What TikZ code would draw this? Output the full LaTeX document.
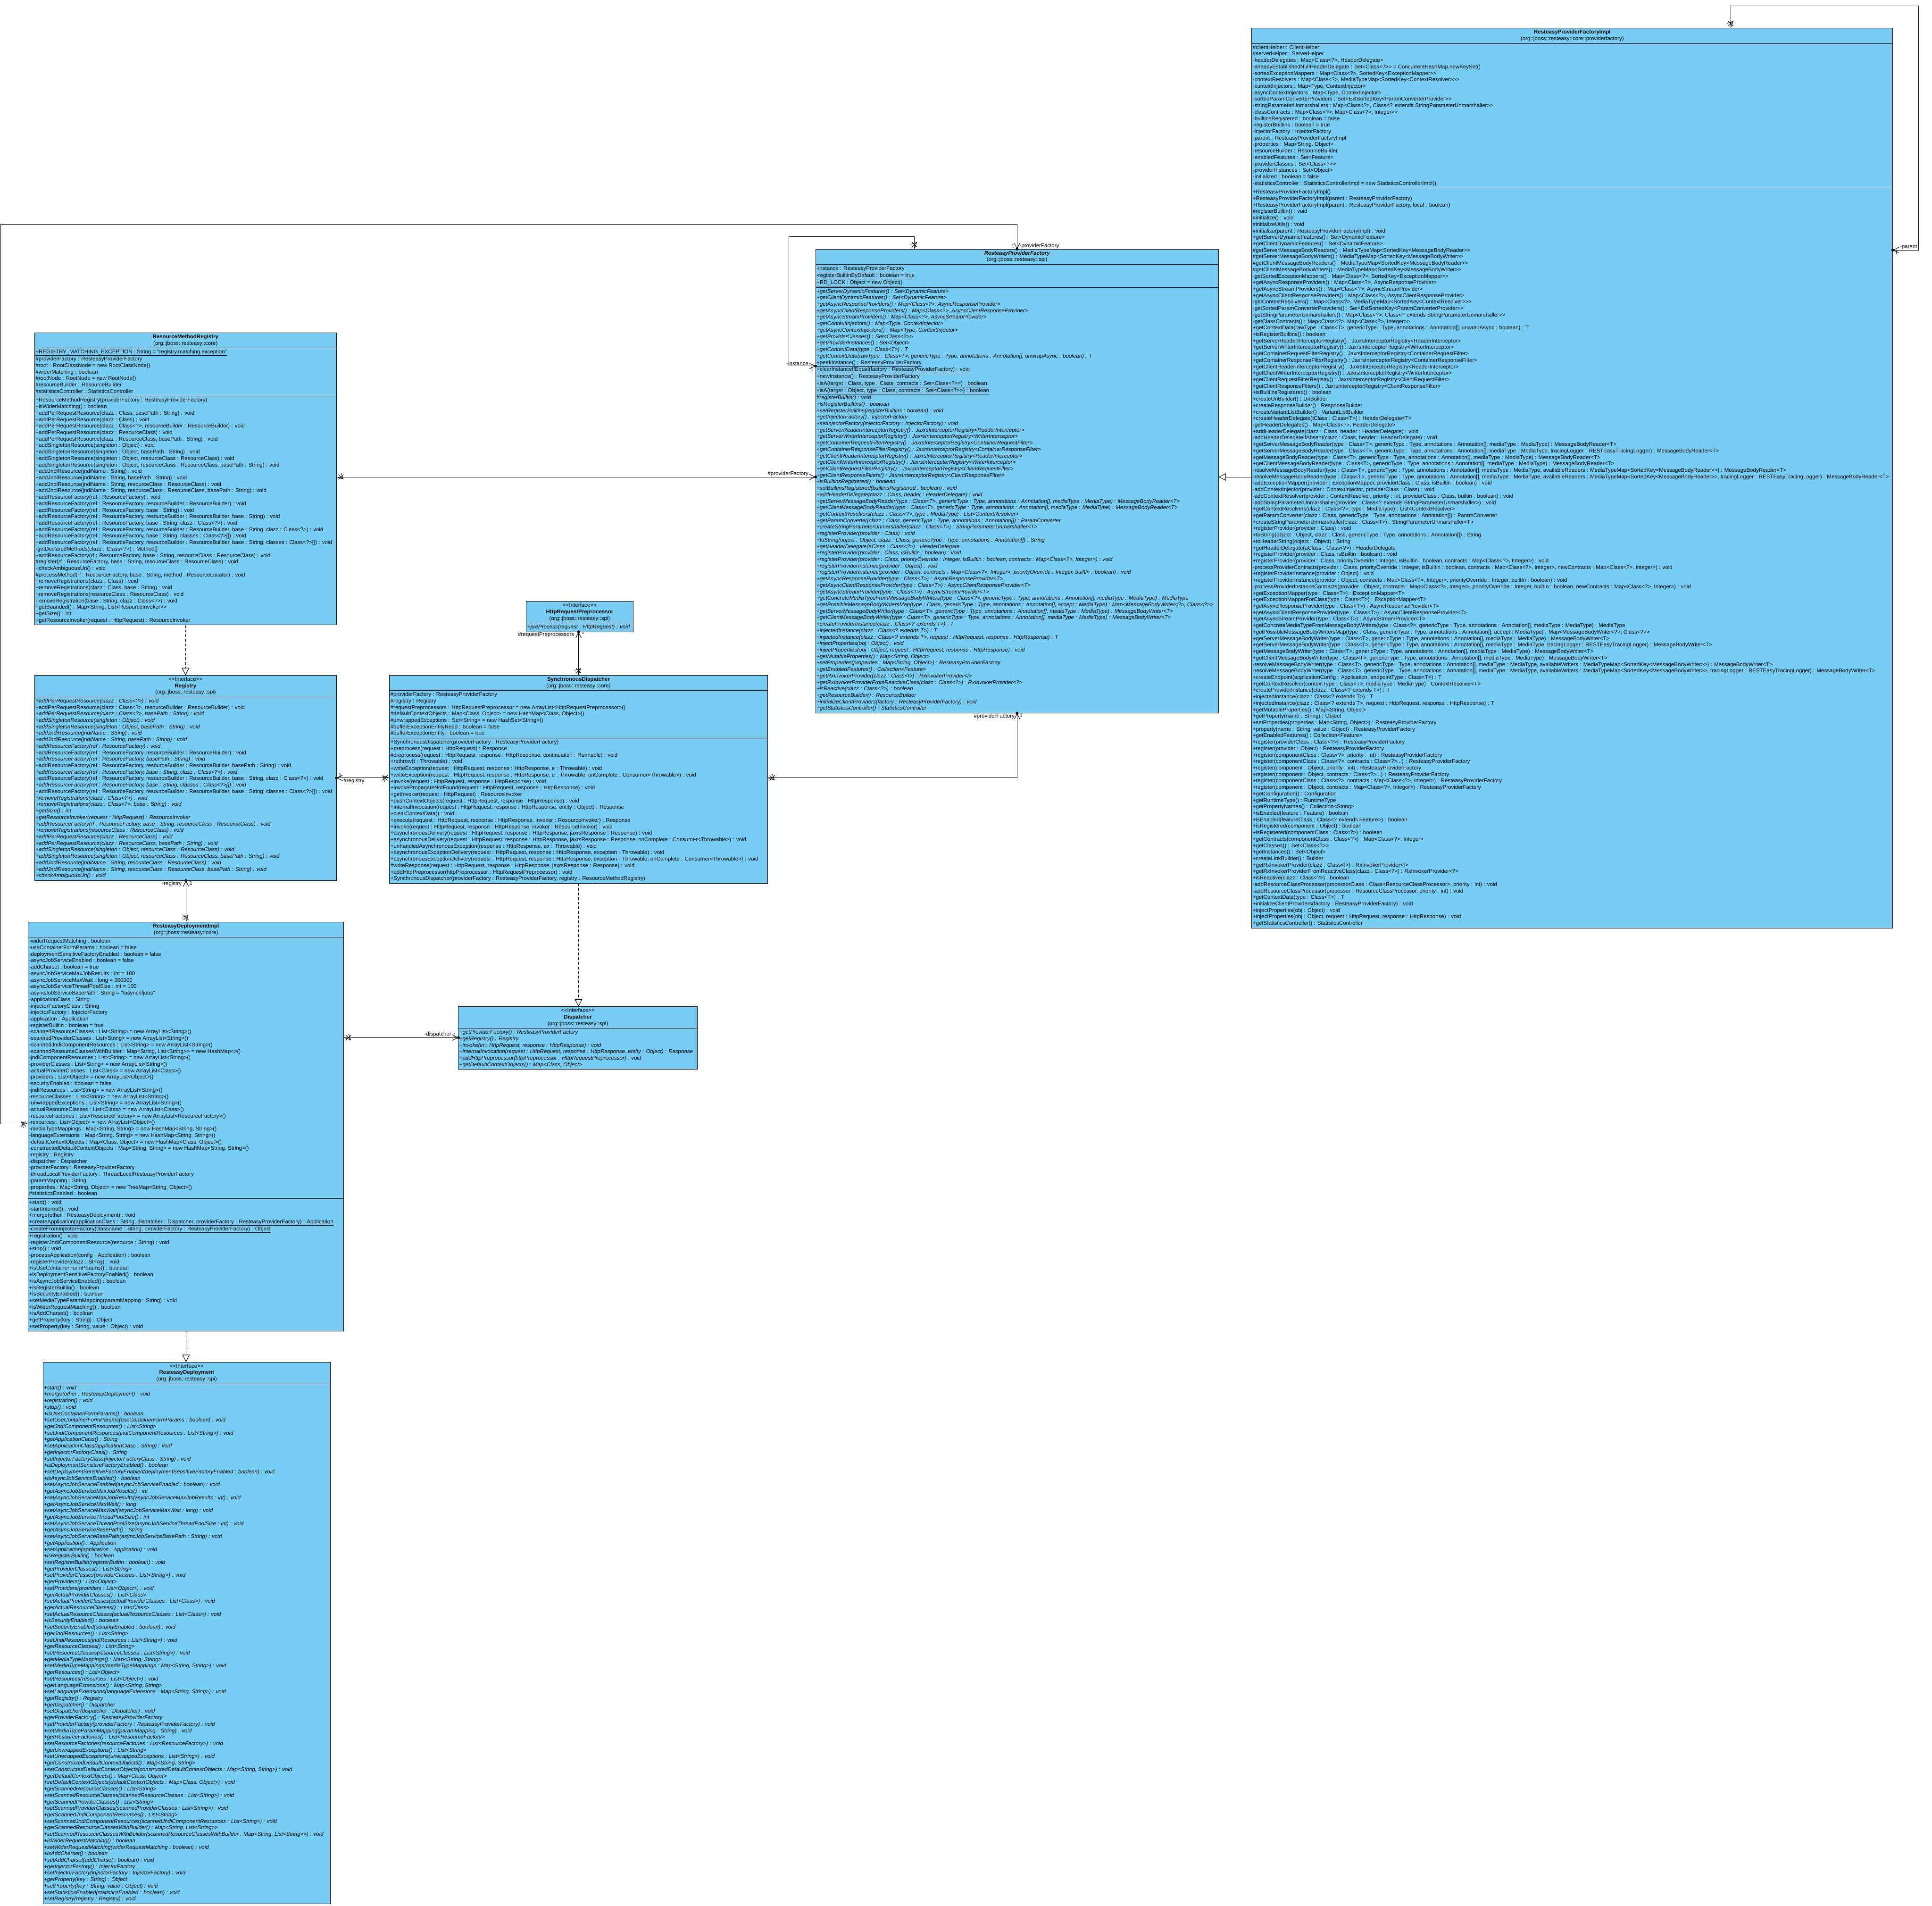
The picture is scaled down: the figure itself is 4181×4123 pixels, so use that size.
\documentclass[tikz,border=0pt]{standalone}
\usepackage{fontspec}
\newfontfamily\umlfont{Liberation Sans}
\usepackage{xcolor}
\usepackage{tikz}
\usetikzlibrary{shapes.multipart, arrows.meta, positioning, calc, decorations.markings}
\definecolor{classblue}{RGB}{120,205,242}
% one compartment of a class box: fixed width, one \hbox per line
\newcommand\umlpart[1]{\vtop{\hsize=\cw\relax#1}}
\newcommand\hd[1]{\hbox to\hsize{\hfil\strut#1\hfil}}
\newcommand\ml[1]{\hbox to\hsize{\strut#1\hfil}}
\tikzset{
  % Class diagram styles
  umlclass/.style={rectangle split, rectangle split parts=#1, draw=black, fill=classblue, line width=1pt,
    inner xsep=2pt, inner ysep=2pt, outer sep=0pt, anchor=north west, font=\umlfont\fontsize{11.75}{14}\selectfont},
  role/.style={font=\umlfont\fontsize{11.75}{14}\selectfont, inner sep=1pt},
  assoc/.style={line width=1pt, -{Straight Barb[length=12pt, width=12pt]},
    postaction={decorate, decoration={markings,
      mark=at position 10pt with {\draw[line width=1pt] (-5.5pt,-5.5pt) -- (5.5pt,5.5pt) (-5.5pt,5.5pt) -- (5.5pt,-5.5pt);},
      mark=at position 1 with {\fill (0,0) circle (3pt);}}}},
  realize/.style={line width=1pt, dashed, dash pattern=on 6pt off 4pt, -{Triangle[open, fill=white, length=16pt, width=16pt]}},
  extends/.style={line width=1pt, -{Triangle[open, fill=white, length=16pt, width=16pt]}},
}

\begin{document}
\begin{tikzpicture}[x=1pt, y=-1pt]
  \path[use as bounding box, fill=white] (0,0) rectangle (4181,4123);

  % ResteasyProviderFactoryImpl
  \def\cw{1383pt}
  \node[umlclass=3] (pfi) at (2709,61) {\umlpart{%
    \hd{\bfseries ResteasyProviderFactoryImpl}
    \hd{(org::jboss::resteasy::core::providerfactory)}}%
  \nodepart{two}\umlpart{%
    \ml{\#clientHelper : ClientHelper}
    \ml{\#serverHelper : ServerHelper}
    \ml{-headerDelegates : Map<Class<?>, HeaderDelegate>}
    \ml{-alreadyEstablishedNullHeaderDelegate : Set<Class<?>> = ConcurrentHashMap.newKeySet()}
    \ml{-sortedExceptionMappers : Map<Class<?>, SortedKey<ExceptionMapper>>}
    \ml{-contextResolvers : Map<Class<?>, MediaTypeMap<SortedKey<ContextResolver>>>}
    \ml{-contextInjectors : Map<Type, ContextInjector>}
    \ml{-asyncContextInjectors : Map<Type, ContextInjector>}
    \ml{-sortedParamConverterProviders : Set<ExtSortedKey<ParamConverterProvider>>}
    \ml{-stringParameterUnmarshallers : Map<Class<?>, Class<? extends StringParameterUnmarshaller>>}
    \ml{-classContracts : Map<Class<?>, Map<Class<?>, Integer>>}
    \ml{-builtinsRegistered : boolean = false}
    \ml{-registerBuiltins : boolean = true}
    \ml{-injectorFactory : InjectorFactory}
    \ml{-parent : ResteasyProviderFactoryImpl}
    \ml{-properties : Map<String, Object>}
    \ml{-resourceBuilder : ResourceBuilder}
    \ml{-enabledFeatures : Set<Feature>}
    \ml{-providerClasses : Set<Class<?>>}
    \ml{-providerInstances : Set<Object>}
    \ml{-initialized : boolean = false}
    \ml{-statisticsController : StatisticsControllerImpl = new StatisticsControllerImpl()}}%
  \nodepart{three}\umlpart{%
    \ml{+ResteasyProviderFactoryImpl()}
    \ml{+ResteasyProviderFactoryImpl(parent : ResteasyProviderFactory)}
    \ml{+ResteasyProviderFactoryImpl(parent : ResteasyProviderFactory, local : boolean)}
    \ml{\#registerBuiltin() : void}
    \ml{\#initialize() : void}
    \ml{\#initializeUtils() : void}
    \ml{\#initialize(parent : ResteasyProviderFactoryImpl) : void}
    \ml{+getServerDynamicFeatures() : Set<DynamicFeature>}
    \ml{+getClientDynamicFeatures() : Set<DynamicFeature>}
    \ml{\#getServerMessageBodyReaders() : MediaTypeMap<SortedKey<MessageBodyReader>>}
    \ml{\#getServerMessageBodyWriters() : MediaTypeMap<SortedKey<MessageBodyWriter>>}
    \ml{\#getClientMessageBodyReaders() : MediaTypeMap<SortedKey<MessageBodyReader>>}
    \ml{\#getClientMessageBodyWriters() : MediaTypeMap<SortedKey<MessageBodyWriter>>}
    \ml{-getSortedExceptionMappers() : Map<Class<?>, SortedKey<ExceptionMapper>>}
    \ml{+getAsyncResponseProviders() : Map<Class<?>, AsyncResponseProvider>}
    \ml{+getAsyncStreamProviders() : Map<Class<?>, AsyncStreamProvider>}
    \ml{+getAsyncClientResponseProviders() : Map<Class<?>, AsyncClientResponseProvider>}
    \ml{-getContextResolvers() : Map<Class<?>, MediaTypeMap<SortedKey<ContextResolver>>>}
    \ml{-getSortedParamConverterProviders() : Set<ExtSortedKey<ParamConverterProvider>>}
    \ml{-getStringParameterUnmarshallers() : Map<Class<?>, Class<? extends StringParameterUnmarshaller>>}
    \ml{-getClassContracts() : Map<Class<?>, Map<Class<?>, Integer>>}
    \ml{+getContextData(rawType : Class<T>, genericType : Type, annotations : Annotation[], unwrapAsync : boolean) : T}
    \ml{+isRegisterBuiltins() : boolean}
    \ml{+getServerReaderInterceptorRegistry() : JaxrsInterceptorRegistry<ReaderInterceptor>}
    \ml{+getServerWriterInterceptorRegistry() : JaxrsInterceptorRegistry<WriterInterceptor>}
    \ml{+getContainerRequestFilterRegistry() : JaxrsInterceptorRegistry<ContainerRequestFilter>}
    \ml{+getContainerResponseFilterRegistry() : JaxrsInterceptorRegistry<ContainerResponseFilter>}
    \ml{+getClientReaderInterceptorRegistry() : JaxrsInterceptorRegistry<ReaderInterceptor>}
    \ml{+getClientWriterInterceptorRegistry() : JaxrsInterceptorRegistry<WriterInterceptor>}
    \ml{+getClientRequestFilterRegistry() : JaxrsInterceptorRegistry<ClientRequestFilter>}
    \ml{+getClientResponseFilters() : JaxrsInterceptorRegistry<ClientResponseFilter>}
    \ml{+isBuiltinsRegistered() : boolean}
    \ml{+createUriBuilder() : UriBuilder}
    \ml{+createResponseBuilder() : ResponseBuilder}
    \ml{+createVariantListBuilder() : VariantListBuilder}
    \ml{+createHeaderDelegate(tClass : Class<T>) : HeaderDelegate<T>}
    \ml{-getHeaderDelegates() : Map<Class<?>, HeaderDelegate>}
    \ml{+addHeaderDelegate(clazz : Class, header : HeaderDelegate) : void}
    \ml{-addHeaderDelegateIfAbsent(clazz : Class, header : HeaderDelegate) : void}
    \ml{+getServerMessageBodyReader(type : Class<T>, genericType : Type, annotations : Annotation[], mediaType : MediaType) : MessageBodyReader<T>}
    \ml{+getServerMessageBodyReader(type : Class<T>, genericType : Type, annotations : Annotation[], mediaType : MediaType, tracingLogger : RESTEasyTracingLogger) : MessageBodyReader<T>}
    \ml{+getMessageBodyReader(type : Class<T>, genericType : Type, annotations : Annotation[], mediaType : MediaType) : MessageBodyReader<T>}
    \ml{+getClientMessageBodyReader(type : Class<T>, genericType : Type, annotations : Annotation[], mediaType : MediaType) : MessageBodyReader<T>}
    \ml{-resolveMessageBodyReader(type : Class<T>, genericType : Type, annotations : Annotation[], mediaType : MediaType, availableReaders : MediaTypeMap<SortedKey<MessageBodyReader>>) : MessageBodyReader<T>}
    \ml{-resolveMessageBodyReader(type : Class<T>, genericType : Type, annotations : Annotation[], mediaType : MediaType, availableReaders : MediaTypeMap<SortedKey<MessageBodyReader>>, tracingLogger : RESTEasyTracingLogger) : MessageBodyReader<T>}
    \ml{-addExceptionMapper(provider : ExceptionMapper, providerClass : Class, isBuiltin : boolean) : void}
    \ml{-addContextInjector(provider : ContextInjector, providerClass : Class) : void}
    \ml{-addContextResolver(provider : ContextResolver, priority : int, providerClass : Class, builtin : boolean) : void}
    \ml{-addStringParameterUnmarshaller(provider : Class<? extends StringParameterUnmarshaller>) : void}
    \ml{+getContextResolvers(clazz : Class<?>, type : MediaType) : List<ContextResolver>}
    \ml{+getParamConverter(clazz : Class, genericType : Type, annotations : Annotation[]) : ParamConverter}
    \ml{+createStringParameterUnmarshaller(clazz : Class<T>) : StringParameterUnmarshaller<T>}
    \ml{+registerProvider(provider : Class) : void}
    \ml{+toString(object : Object, clazz : Class, genericType : Type, annotations : Annotation[]) : String}
    \ml{+toHeaderString(object : Object) : String}
    \ml{+getHeaderDelegate(aClass : Class<?>) : HeaderDelegate}
    \ml{+registerProvider(provider : Class, isBuiltin : boolean) : void}
    \ml{+registerProvider(provider : Class, priorityOverride : Integer, isBuiltin : boolean, contracts : Map<Class<?>, Integer>) : void}
    \ml{-processProviderContracts(provider : Class, priorityOverride : Integer, isBuiltin : boolean, contracts : Map<Class<?>, Integer>, newContracts : Map<Class<?>, Integer>) : void}
    \ml{+registerProviderInstance(provider : Object) : void}
    \ml{+registerProviderInstance(provider : Object, contracts : Map<Class<?>, Integer>, priorityOverride : Integer, builtIn : boolean) : void}
    \ml{-processProviderInstanceContracts(provider : Object, contracts : Map<Class<?>, Integer>, priorityOverride : Integer, builtIn : boolean, newContracts : Map<Class<?>, Integer>) : void}
    \ml{+getExceptionMapper(type : Class<T>) : ExceptionMapper<T>}
    \ml{+getExceptionMapperForClass(type : Class<T>) : ExceptionMapper<T>}
    \ml{+getAsyncResponseProvider(type : Class<T>) : AsyncResponseProvider<T>}
    \ml{+getAsyncClientResponseProvider(type : Class<T>) : AsyncClientResponseProvider<T>}
    \ml{+getAsyncStreamProvider(type : Class<T>) : AsyncStreamProvider<T>}
    \ml{+getConcreteMediaTypeFromMessageBodyWriters(type : Class<?>, genericType : Type, annotations : Annotation[], mediaType : MediaType) : MediaType}
    \ml{+getPossibleMessageBodyWritersMap(type : Class, genericType : Type, annotations : Annotation[], accept : MediaType) : Map<MessageBodyWriter<?>, Class<?>>}
    \ml{+getServerMessageBodyWriter(type : Class<T>, genericType : Type, annotations : Annotation[], mediaType : MediaType) : MessageBodyWriter<T>}
    \ml{+getServerMessageBodyWriter(type : Class<T>, genericType : Type, annotations : Annotation[], mediaType : MediaType, tracingLogger : RESTEasyTracingLogger) : MessageBodyWriter<T>}
    \ml{+getMessageBodyWriter(type : Class<T>, genericType : Type, annotations : Annotation[], mediaType : MediaType) : MessageBodyWriter<T>}
    \ml{+getClientMessageBodyWriter(type : Class<T>, genericType : Type, annotations : Annotation[], mediaType : MediaType) : MessageBodyWriter<T>}
    \ml{-resolveMessageBodyWriter(type : Class<T>, genericType : Type, annotations : Annotation[], mediaType : MediaType, availableWriters : MediaTypeMap<SortedKey<MessageBodyWriter>>) : MessageBodyWriter<T>}
    \ml{-resolveMessageBodyWriter(type : Class<T>, genericType : Type, annotations : Annotation[], mediaType : MediaType, availableWriters : MediaTypeMap<SortedKey<MessageBodyWriter>>, tracingLogger : RESTEasyTracingLogger) : MessageBodyWriter<T>}
    \ml{+createEndpoint(applicationConfig : Application, endpointType : Class<T>) : T}
    \ml{+getContextResolver(contextType : Class<T>, mediaType : MediaType) : ContextResolver<T>}
    \ml{+createProviderInstance(clazz : Class<? extends T>) : T}
    \ml{+injectedInstance(clazz : Class<? extends T>) : T}
    \ml{+injectedInstance(clazz : Class<? extends T>, request : HttpRequest, response : HttpResponse) : T}
    \ml{+getMutableProperties() : Map<String, Object>}
    \ml{+getProperty(name : String) : Object}
    \ml{+setProperties(properties : Map<String, Object>) : ResteasyProviderFactory}
    \ml{+property(name : String, value : Object) : ResteasyProviderFactory}
    \ml{+getEnabledFeatures() : Collection<Feature>}
    \ml{+register(providerClass : Class<?>) : ResteasyProviderFactory}
    \ml{+register(provider : Object) : ResteasyProviderFactory}
    \ml{+register(componentClass : Class<?>, priority : int) : ResteasyProviderFactory}
    \ml{+register(componentClass : Class<?>, contracts : Class<?>...) : ResteasyProviderFactory}
    \ml{+register(component : Object, priority : int) : ResteasyProviderFactory}
    \ml{+register(component : Object, contracts : Class<?>...) : ResteasyProviderFactory}
    \ml{+register(componentClass : Class<?>, contracts : Map<Class<?>, Integer>) : ResteasyProviderFactory}
    \ml{+register(component : Object, contracts : Map<Class<?>, Integer>) : ResteasyProviderFactory}
    \ml{+getConfiguration() : Configuration}
    \ml{+getRuntimeType() : RuntimeType}
    \ml{+getPropertyNames() : Collection<String>}
    \ml{+isEnabled(feature : Feature) : boolean}
    \ml{+isEnabled(featureClass : Class<? extends Feature>) : boolean}
    \ml{+isRegistered(component : Object) : boolean}
    \ml{+isRegistered(componentClass : Class<?>) : boolean}
    \ml{+getContracts(componentClass : Class<?>) : Map<Class<?>, Integer>}
    \ml{+getClasses() : Set<Class<?>>}
    \ml{+getInstances() : Set<Object>}
    \ml{+createLinkBuilder() : Builder}
    \ml{+getRxInvokerProvider(clazz : Class<I>) : RxInvokerProvider<I>}
    \ml{+getRxInvokerProviderFromReactiveClass(clazz : Class<?>) : RxInvokerProvider<?>}
    \ml{+isReactive(clazz : Class<?>) : boolean}
    \ml{-addResourceClassProcessor(processorClass : Class<ResourceClassProcessor>, priority : int) : void}
    \ml{-addResourceClassProcessor(processor : ResourceClassProcessor, priority : int) : void}
    \ml{+getContextData(type : Class<T>) : T}
    \ml{+initializeClientProviders(factory : ResteasyProviderFactory) : void}
    \ml{+injectProperties(obj : Object) : void}
    \ml{+injectProperties(obj : Object, request : HttpRequest, response : HttpResponse) : void}
    \ml{+getStatisticsController() : StatisticsController}}};

  % ResteasyProviderFactory
  \def\cw{868pt}
  \node[umlclass=3] (pf) at (1765,539) {\umlpart{%
    \hd{\bfseries\itshape ResteasyProviderFactory}
    \hd{(org::jboss::resteasy::spi)}}%
  \nodepart{two}\umlpart{%
    \ml{\underline{-instance : ResteasyProviderFactory}}
    \ml{\underline{-registerBuiltinByDefault : boolean = true}}
    \ml{\underline{\textasciitilde RD\_LOCK : Object = new Object()}}}%
  \nodepart{three}\umlpart{\itshape
    \ml{+getServerDynamicFeatures() : Set<DynamicFeature>}
    \ml{+getClientDynamicFeatures() : Set<DynamicFeature>}
    \ml{+getAsyncResponseProviders() : Map<Class<?>, AsyncResponseProvider>}
    \ml{+getAsyncClientResponseProviders() : Map<Class<?>, AsyncClientResponseProvider>}
    \ml{+getAsyncStreamProviders() : Map<Class<?>, AsyncStreamProvider>}
    \ml{+getContextInjectors() : Map<Type, ContextInjector>}
    \ml{+getAsyncContextInjectors() : Map<Type, ContextInjector>}
    \ml{+getProviderClasses() : Set<Class<?>>}
    \ml{+getProviderInstances() : Set<Object>}
    \ml{+getContextData(type : Class<T>) : T}
    \ml{+getContextData(rawType : Class<T>, genericType : Type, annotations : Annotation[], unwrapAsync : boolean) : T}
    \ml{\upshape\underline{+peekInstance() : ResteasyProviderFactory}}
    \ml{\upshape\underline{+clearInstanceIfEqual(factory : ResteasyProviderFactory) : void}}
    \ml{\upshape\underline{+newInstance() : ResteasyProviderFactory}}
    \ml{\upshape\underline{+isA(target : Class, type : Class, contracts : Set<Class<?>>) : boolean}}
    \ml{\upshape\underline{+isA(target : Object, type : Class, contracts : Set<Class<?>>) : boolean}}
    \ml{\#registerBuiltin() : void}
    \ml{+isRegisterBuiltins() : boolean}
    \ml{+setRegisterBuiltins(registerBuiltins : boolean) : void}
    \ml{+getInjectorFactory() : InjectorFactory}
    \ml{+setInjectorFactory(injectorFactory : InjectorFactory) : void}
    \ml{+getServerReaderInterceptorRegistry() : JaxrsInterceptorRegistry<ReaderInterceptor>}
    \ml{+getServerWriterInterceptorRegistry() : JaxrsInterceptorRegistry<WriterInterceptor>}
    \ml{+getContainerRequestFilterRegistry() : JaxrsInterceptorRegistry<ContainerRequestFilter>}
    \ml{+getContainerResponseFilterRegistry() : JaxrsInterceptorRegistry<ContainerResponseFilter>}
    \ml{+getClientReaderInterceptorRegistry() : JaxrsInterceptorRegistry<ReaderInterceptor>}
    \ml{+getClientWriterInterceptorRegistry() : JaxrsInterceptorRegistry<WriterInterceptor>}
    \ml{+getClientRequestFilterRegistry() : JaxrsInterceptorRegistry<ClientRequestFilter>}
    \ml{+getClientResponseFilters() : JaxrsInterceptorRegistry<ClientResponseFilter>}
    \ml{+isBuiltinsRegistered() : boolean}
    \ml{+setBuiltinsRegistered(builtinsRegistered : boolean) : void}
    \ml{+addHeaderDelegate(clazz : Class, header : HeaderDelegate) : void}
    \ml{+getServerMessageBodyReader(type : Class<T>, genericType : Type, annotations : Annotation[], mediaType : MediaType) : MessageBodyReader<T>}
    \ml{+getClientMessageBodyReader(type : Class<T>, genericType : Type, annotations : Annotation[], mediaType : MediaType) : MessageBodyReader<T>}
    \ml{+getContextResolvers(clazz : Class<?>, type : MediaType) : List<ContextResolver>}
    \ml{+getParamConverter(clazz : Class, genericType : Type, annotations : Annotation[]) : ParamConverter}
    \ml{+createStringParameterUnmarshaller(clazz : Class<T>) : StringParameterUnmarshaller<T>}
    \ml{+registerProvider(provider : Class) : void}
    \ml{+toString(object : Object, clazz : Class, genericType : Type, annotations : Annotation[]) : String}
    \ml{+getHeaderDelegate(aClass : Class<?>) : HeaderDelegate}
    \ml{+registerProvider(provider : Class, isBuiltin : boolean) : void}
    \ml{+registerProvider(provider : Class, priorityOverride : Integer, isBuiltin : boolean, contracts : Map<Class<?>, Integer>) : void}
    \ml{+registerProviderInstance(provider : Object) : void}
    \ml{+registerProviderInstance(provider : Object, contracts : Map<Class<?>, Integer>, priorityOverride : Integer, builtIn : boolean) : void}
    \ml{+getAsyncResponseProvider(type : Class<T>) : AsyncResponseProvider<T>}
    \ml{+getAsyncClientResponseProvider(type : Class<T>) : AsyncClientResponseProvider<T>}
    \ml{+getAsyncStreamProvider(type : Class<T>) : AsyncStreamProvider<T>}
    \ml{+getConcreteMediaTypeFromMessageBodyWriters(type : Class<?>, genericType : Type, annotations : Annotation[], mediaType : MediaType) : MediaType}
    \ml{+getPossibleMessageBodyWritersMap(type : Class, genericType : Type, annotations : Annotation[], accept : MediaType) : Map<MessageBodyWriter<?>, Class<?>>}
    \ml{+getServerMessageBodyWriter(type : Class<T>, genericType : Type, annotations : Annotation[], mediaType : MediaType) : MessageBodyWriter<T>}
    \ml{+getClientMessageBodyWriter(type : Class<T>, genericType : Type, annotations : Annotation[], mediaType : MediaType) : MessageBodyWriter<T>}
    \ml{+createProviderInstance(clazz : Class<? extends T>) : T}
    \ml{+injectedInstance(clazz : Class<? extends T>) : T}
    \ml{+injectedInstance(clazz : Class<? extends T>, request : HttpRequest, response : HttpResponse) : T}
    \ml{+injectProperties(obj : Object) : void}
    \ml{+injectProperties(obj : Object, request : HttpRequest, response : HttpResponse) : void}
    \ml{+getMutableProperties() : Map<String, Object>}
    \ml{+setProperties(properties : Map<String, Object>) : ResteasyProviderFactory}
    \ml{+getEnabledFeatures() : Collection<Feature>}
    \ml{+getRxInvokerProvider(clazz : Class<I>) : RxInvokerProvider<I>}
    \ml{+getRxInvokerProviderFromReactiveClass(clazz : Class<?>) : RxInvokerProvider<?>}
    \ml{+isReactive(clazz : Class<?>) : boolean}
    \ml{+getResourceBuilder() : ResourceBuilder}
    \ml{+initializeClientProviders(factory : ResteasyProviderFactory) : void}
    \ml{+getStatisticsController() : StatisticsController}}};

  % ResourceMethodRegistry
  \def\cw{649pt}
  \node[umlclass=3] (rmr) at (75,720) {\umlpart{%
    \hd{\bfseries ResourceMethodRegistry}
    \hd{(org::jboss::resteasy::core)}}%
  \nodepart{two}\umlpart{%
    \ml{\underline{+REGISTRY\_MATCHING\_EXCEPTION : String = "registry.matching.exception"}}
    \ml{\#providerFactory : ResteasyProviderFactory}
    \ml{\#root : RootClassNode = new RootClassNode()}
    \ml{\#widerMatching : boolean}
    \ml{\#rootNode : RootNode = new RootNode()}
    \ml{\#resourceBuilder : ResourceBuilder}
    \ml{\#statisticsController : StatisticsController}}%
  \nodepart{three}\umlpart{%
    \ml{+ResourceMethodRegistry(providerFactory : ResteasyProviderFactory)}
    \ml{+isWiderMatching() : boolean}
    \ml{+addPerRequestResource(clazz : Class, basePath : String) : void}
    \ml{+addPerRequestResource(clazz : Class) : void}
    \ml{+addPerRequestResource(clazz : Class<?>, resourceBuilder : ResourceBuilder) : void}
    \ml{+addPerRequestResource(clazz : ResourceClass) : void}
    \ml{+addPerRequestResource(clazz : ResourceClass, basePath : String) : void}
    \ml{+addSingletonResource(singleton : Object) : void}
    \ml{+addSingletonResource(singleton : Object, basePath : String) : void}
    \ml{+addSingletonResource(singleton : Object, resourceClass : ResourceClass) : void}
    \ml{+addSingletonResource(singleton : Object, resourceClass : ResourceClass, basePath : String) : void}
    \ml{+addJndiResource(jndiName : String) : void}
    \ml{+addJndiResource(jndiName : String, basePath : String) : void}
    \ml{+addJndiResource(jndiName : String, resourceClass : ResourceClass) : void}
    \ml{+addJndiResource(jndiName : String, resourceClass : ResourceClass, basePath : String) : void}
    \ml{+addResourceFactory(ref : ResourceFactory) : void}
    \ml{+addResourceFactory(ref : ResourceFactory, resourceBuilder : ResourceBuilder) : void}
    \ml{+addResourceFactory(ref : ResourceFactory, base : String) : void}
    \ml{+addResourceFactory(ref : ResourceFactory, resourceBuilder : ResourceBuilder, base : String) : void}
    \ml{+addResourceFactory(ref : ResourceFactory, base : String, clazz : Class<?>) : void}
    \ml{+addResourceFactory(ref : ResourceFactory, resourceBuilder : ResourceBuilder, base : String, clazz : Class<?>) : void}
    \ml{+addResourceFactory(ref : ResourceFactory, base : String, classes : Class<?>[]) : void}
    \ml{+addResourceFactory(ref : ResourceFactory, resourceBuilder : ResourceBuilder, base : String, classes : Class<?>[]) : void}
    \ml{-getDeclaredMethods(clazz : Class<?>) : Method[]}
    \ml{+addResourceFactory(rf : ResourceFactory, base : String, resourceClass : ResourceClass) : void}
    \ml{\#register(rf : ResourceFactory, base : String, resourceClass : ResourceClass) : void}
    \ml{+checkAmbiguousUri() : void}
    \ml{\#processMethod(rf : ResourceFactory, base : String, method : ResourceLocator) : void}
    \ml{+removeRegistrations(clazz : Class) : void}
    \ml{+removeRegistrations(clazz : Class, base : String) : void}
    \ml{+removeRegistrations(resourceClass : ResourceClass) : void}
    \ml{-removeRegistration(base : String, clazz : Class<?>) : void}
    \ml{+getBounded() : Map<String, List<ResourceInvoker>>}
    \ml{+getSize() : int}
    \ml{+getResourceInvoker(request : HttpRequest) : ResourceInvoker}}};

  % Registry
  \node[umlclass=2] (reg) at (75,1461) {\umlpart{%
    \hd{<<Interface>>}
    \hd{\bfseries Registry}
    \hd{(org::jboss::resteasy::spi)}}%
  \nodepart{two}\umlpart{\itshape
    \ml{+addPerRequestResource(clazz : Class<?>) : void}
    \ml{\upshape +addPerRequestResource(clazz : Class<?>, resourceBuilder : ResourceBuilder) : void}
    \ml{+addPerRequestResource(clazz : Class<?>, basePath : String) : void}
    \ml{+addSingletonResource(singleton : Object) : void}
    \ml{+addSingletonResource(singleton : Object, basePath : String) : void}
    \ml{+addJndiResource(jndiName : String) : void}
    \ml{+addJndiResource(jndiName : String, basePath : String) : void}
    \ml{+addResourceFactory(ref : ResourceFactory) : void}
    \ml{\upshape +addResourceFactory(ref : ResourceFactory, resourceBuilder : ResourceBuilder) : void}
    \ml{+addResourceFactory(ref : ResourceFactory, basePath : String) : void}
    \ml{\upshape +addResourceFactory(ref : ResourceFactory, resourceBuilder : ResourceBuilder, basePath : String) : void}
    \ml{+addResourceFactory(ref : ResourceFactory, base : String, clazz : Class<?>) : void}
    \ml{\upshape +addResourceFactory(ref : ResourceFactory, resourceBuilder : ResourceBuilder, base : String, clazz : Class<?>) : void}
    \ml{+addResourceFactory(ref : ResourceFactory, base : String, classes : Class<?>[]) : void}
    \ml{\upshape +addResourceFactory(ref : ResourceFactory, resourceBuilder : ResourceBuilder, base : String, classes : Class<?>[]) : void}
    \ml{+removeRegistrations(clazz : Class<?>) : void}
    \ml{+removeRegistrations(clazz : Class<?>, base : String) : void}
    \ml{+getSize() : int}
    \ml{+getResourceInvoker(request : HttpRequest) : ResourceInvoker}
    \ml{+addResourceFactory(rf : ResourceFactory, base : String, resourceClass : ResourceClass) : void}
    \ml{+removeRegistrations(resourceClass : ResourceClass) : void}
    \ml{+addPerRequestResource(clazz : ResourceClass) : void}
    \ml{+addPerRequestResource(clazz : ResourceClass, basePath : String) : void}
    \ml{+addSingletonResource(singleton : Object, resourceClass : ResourceClass) : void}
    \ml{+addSingletonResource(singleton : Object, resourceClass : ResourceClass, basePath : String) : void}
    \ml{+addJndiResource(jndiName : String, resourceClass : ResourceClass) : void}
    \ml{+addJndiResource(jndiName : String, resourceClass : ResourceClass, basePath : String) : void}
    \ml{+checkAmbiguousUri() : void}}};

  % HttpRequestPreprocessor
  \def\cw{227pt}
  \node[umlclass=2] (hrp) at (1139,1301) {\umlpart{%
    \hd{<<Interface>>}
    \hd{\bfseries HttpRequestPreprocessor}
    \hd{(org::jboss::resteasy::spi)}}%
  \nodepart{two}\umlpart{\itshape
    \ml{+preProcess(request : HttpRequest) : void}}};

  % SynchronousDispatcher
  \def\cw{814pt}
  \node[umlclass=3] (sd) at (843,1461) {\umlpart{%
    \hd{\bfseries SynchronousDispatcher}
    \hd{(org::jboss::resteasy::core)}}%
  \nodepart{two}\umlpart{%
    \ml{\#providerFactory : ResteasyProviderFactory}
    \ml{\#registry : Registry}
    \ml{\#requestPreprocessors : HttpRequestPreprocessor = new ArrayList<HttpRequestPreprocessor>()}
    \ml{\#defaultContextObjects : Map<Class, Object> = new HashMap<Class, Object>()}
    \ml{\#unwrappedExceptions : Set<String> = new HashSet<String>()}
    \ml{\#bufferExceptionEntityRead : boolean = false}
    \ml{\#bufferExceptionEntity : boolean = true}}%
  \nodepart{three}\umlpart{%
    \ml{+SynchronousDispatcher(providerFactory : ResteasyProviderFactory)}
    \ml{+preprocess(request : HttpRequest) : Response}
    \ml{\#preprocess(request : HttpRequest, response : HttpResponse, continuation : Runnable) : void}
    \ml{\underline{+rethrow(t : Throwable) : void}}
    \ml{+writeException(request : HttpRequest, response : HttpResponse, e : Throwable) : void}
    \ml{+writeException(request : HttpRequest, response : HttpResponse, e : Throwable, onComplete : Consumer<Throwable>) : void}
    \ml{+invoke(request : HttpRequest, response : HttpResponse) : void}
    \ml{+invokePropagateNotFound(request : HttpRequest, response : HttpResponse) : void}
    \ml{+getInvoker(request : HttpRequest) : ResourceInvoker}
    \ml{+pushContextObjects(request : HttpRequest, response : HttpResponse) : void}
    \ml{+internalInvocation(request : HttpRequest, response : HttpResponse, entity : Object) : Response}
    \ml{+clearContextData() : void}
    \ml{+execute(request : HttpRequest, response : HttpResponse, invoker : ResourceInvoker) : Response}
    \ml{+invoke(request : HttpRequest, response : HttpResponse, invoker : ResourceInvoker) : void}
    \ml{+asynchronousDelivery(request : HttpRequest, response : HttpResponse, jaxrsResponse : Response) : void}
    \ml{+asynchronousDelivery(request : HttpRequest, response : HttpResponse, jaxrsResponse : Response, onComplete : Consumer<Throwable>) : void}
    \ml{+unhandledAsynchronousException(response : HttpResponse, ex : Throwable) : void}
    \ml{+asynchronousExceptionDelivery(request : HttpRequest, response : HttpResponse, exception : Throwable) : void}
    \ml{+asynchronousExceptionDelivery(request : HttpRequest, response : HttpResponse, exception : Throwable, onComplete : Consumer<Throwable>) : void}
    \ml{\#writeResponse(request : HttpRequest, response : HttpResponse, jaxrsResponse : Response) : void}
    \ml{+addHttpPreprocessor(httpPreprocessor : HttpRequestPreprocessor) : void}
    \ml{+SynchronousDispatcher(providerFactory : ResteasyProviderFactory, registry : ResourceMethodRegistry)}}};

  % Dispatcher
  \def\cw{513pt}
  \node[umlclass=2] (disp) at (992,2178) {\umlpart{%
    \hd{<<Interface>>}
    \hd{\bfseries Dispatcher}
    \hd{(org::jboss::resteasy::spi)}}%
  \nodepart{two}\umlpart{\itshape
    \ml{+getProviderFactory() : ResteasyProviderFactory}
    \ml{+getRegistry() : Registry}
    \ml{+invoke(in : HttpRequest, response : HttpResponse) : void}
    \ml{+internalInvocation(request : HttpRequest, response : HttpResponse, entity : Object) : Response}
    \ml{+addHttpPreprocessor(httpPreprocessor : HttpRequestPreprocessor) : void}
    \ml{+getDefaultContextObjects() : Map<Class, Object>}}};

  % ResteasyDeploymentImpl
  \def\cw{679pt}
  \node[umlclass=3] (rdi) at (61,1995) {\umlpart{%
    \hd{\bfseries ResteasyDeploymentImpl}
    \hd{(org::jboss::resteasy::core)}}%
  \nodepart{two}\umlpart{%
    \ml{-widerRequestMatching : boolean}
    \ml{-useContainerFormParams : boolean = false}
    \ml{-deploymentSensitiveFactoryEnabled : boolean = false}
    \ml{-asyncJobServiceEnabled : boolean = false}
    \ml{-addCharset : boolean = true}
    \ml{-asyncJobServiceMaxJobResults : int = 100}
    \ml{-asyncJobServiceMaxWait : long = 300000}
    \ml{-asyncJobServiceThreadPoolSize : int = 100}
    \ml{-asyncJobServiceBasePath : String = "/asynch/jobs"}
    \ml{-applicationClass : String}
    \ml{-injectorFactoryClass : String}
    \ml{-injectorFactory : InjectorFactory}
    \ml{-application : Application}
    \ml{-registerBuiltin : boolean = true}
    \ml{-scannedResourceClasses : List<String> = new ArrayList<String>()}
    \ml{-scannedProviderClasses : List<String> = new ArrayList<String>()}
    \ml{-scannedJndiComponentResources : List<String> = new ArrayList<String>()}
    \ml{-scannedResourceClassesWithBuilder : Map<String, List<String>> = new HashMap<>()}
    \ml{-jndiComponentResources : List<String> = new ArrayList<String>()}
    \ml{-providerClasses : List<String> = new ArrayList<String>()}
    \ml{-actualProviderClasses : List<Class> = new ArrayList<Class>()}
    \ml{-providers : List<Object> = new ArrayList<Object>()}
    \ml{-securityEnabled : boolean = false}
    \ml{-jndiResources : List<String> = new ArrayList<String>()}
    \ml{-resourceClasses : List<String> = new ArrayList<String>()}
    \ml{-unwrappedExceptions : List<String> = new ArrayList<String>()}
    \ml{-actualResourceClasses : List<Class> = new ArrayList<Class>()}
    \ml{-resourceFactories : List<ResourceFactory> = new ArrayList<ResourceFactory>()}
    \ml{-resources : List<Object> = new ArrayList<Object>()}
    \ml{-mediaTypeMappings : Map<String, String> = new HashMap<String, String>()}
    \ml{-languageExtensions : Map<String, String> = new HashMap<String, String>()}
    \ml{-defaultContextObjects : Map<Class, Object> = new HashMap<Class, Object>()}
    \ml{-constructedDefaultContextObjects : Map<String, String> = new HashMap<String, String>()}
    \ml{-registry : Registry}
    \ml{-dispatcher : Dispatcher}
    \ml{-providerFactory : ResteasyProviderFactory}
    \ml{-threadLocalProviderFactory : ThreadLocalResteasyProviderFactory}
    \ml{-paramMapping : String}
    \ml{-properties : Map<String, Object> = new TreeMap<String, Object>()}
    \ml{\#statisticsEnabled : boolean}}%
  \nodepart{three}\umlpart{%
    \ml{+start() : void}
    \ml{-startInternal() : void}
    \ml{+merge(other : ResteasyDeployment) : void}
    \ml{\underline{+createApplication(applicationClass : String, dispatcher : Dispatcher, providerFactory : ResteasyProviderFactory) : Application}}
    \ml{\underline{-createFromInjectorFactory(classname : String, providerFactory : ResteasyProviderFactory) : Object}}
    \ml{+registration() : void}
    \ml{-registerJndiComponentResource(resource : String) : void}
    \ml{+stop() : void}
    \ml{-processApplication(config : Application) : boolean}
    \ml{-registerProvider(clazz : String) : void}
    \ml{+isUseContainerFormParams() : boolean}
    \ml{+isDeploymentSensitiveFactoryEnabled() : boolean}
    \ml{+isAsyncJobServiceEnabled() : boolean}
    \ml{+isRegisterBuiltin() : boolean}
    \ml{+isSecurityEnabled() : boolean}
    \ml{+setMediaTypeParamMapping(paramMapping : String) : void}
    \ml{+isWiderRequestMatching() : boolean}
    \ml{+isAddCharset() : boolean}
    \ml{+getProperty(key : String) : Object}
    \ml{+setProperty(key : String, value : Object) : void}}};

  % ResteasyDeployment
  \def\cw{618pt}
  \node[umlclass=2] (rd) at (93,2947) {\umlpart{%
    \hd{<<Interface>>}
    \hd{\bfseries ResteasyDeployment}
    \hd{(org::jboss::resteasy::spi)}}%
  \nodepart{two}\umlpart{\itshape
    \ml{+start() : void}
    \ml{+merge(other : ResteasyDeployment) : void}
    \ml{+registration() : void}
    \ml{+stop() : void}
    \ml{+isUseContainerFormParams() : boolean}
    \ml{+setUseContainerFormParams(useContainerFormParams : boolean) : void}
    \ml{+getJndiComponentResources() : List<String>}
    \ml{+setJndiComponentResources(jndiComponentResources : List<String>) : void}
    \ml{+getApplicationClass() : String}
    \ml{+setApplicationClass(applicationClass : String) : void}
    \ml{+getInjectorFactoryClass() : String}
    \ml{+setInjectorFactoryClass(injectorFactoryClass : String) : void}
    \ml{+isDeploymentSensitiveFactoryEnabled() : boolean}
    \ml{+setDeploymentSensitiveFactoryEnabled(deploymentSensitiveFactoryEnabled : boolean) : void}
    \ml{+isAsyncJobServiceEnabled() : boolean}
    \ml{+setAsyncJobServiceEnabled(asyncJobServiceEnabled : boolean) : void}
    \ml{+getAsyncJobServiceMaxJobResults() : int}
    \ml{+setAsyncJobServiceMaxJobResults(asyncJobServiceMaxJobResults : int) : void}
    \ml{+getAsyncJobServiceMaxWait() : long}
    \ml{+setAsyncJobServiceMaxWait(asyncJobServiceMaxWait : long) : void}
    \ml{+getAsyncJobServiceThreadPoolSize() : int}
    \ml{+setAsyncJobServiceThreadPoolSize(asyncJobServiceThreadPoolSize : int) : void}
    \ml{+getAsyncJobServiceBasePath() : String}
    \ml{+setAsyncJobServiceBasePath(asyncJobServiceBasePath : String) : void}
    \ml{+getApplication() : Application}
    \ml{+setApplication(application : Application) : void}
    \ml{+isRegisterBuiltin() : boolean}
    \ml{+setRegisterBuiltin(registerBuiltin : boolean) : void}
    \ml{+getProviderClasses() : List<String>}
    \ml{+setProviderClasses(providerClasses : List<String>) : void}
    \ml{+getProviders() : List<Object>}
    \ml{+setProviders(providers : List<Object>) : void}
    \ml{+getActualProviderClasses() : List<Class>}
    \ml{+setActualProviderClasses(actualProviderClasses : List<Class>) : void}
    \ml{+getActualResourceClasses() : List<Class>}
    \ml{+setActualResourceClasses(actualResourceClasses : List<Class>) : void}
    \ml{+isSecurityEnabled() : boolean}
    \ml{+setSecurityEnabled(securityEnabled : boolean) : void}
    \ml{+getJndiResources() : List<String>}
    \ml{+setJndiResources(jndiResources : List<String>) : void}
    \ml{+getResourceClasses() : List<String>}
    \ml{+setResourceClasses(resourceClasses : List<String>) : void}
    \ml{+getMediaTypeMappings() : Map<String, String>}
    \ml{+setMediaTypeMappings(mediaTypeMappings : Map<String, String>) : void}
    \ml{+getResources() : List<Object>}
    \ml{+setResources(resources : List<Object>) : void}
    \ml{+getLanguageExtensions() : Map<String, String>}
    \ml{+setLanguageExtensions(languageExtensions : Map<String, String>) : void}
    \ml{+getRegistry() : Registry}
    \ml{+getDispatcher() : Dispatcher}
    \ml{+setDispatcher(dispatcher : Dispatcher) : void}
    \ml{+getProviderFactory() : ResteasyProviderFactory}
    \ml{+setProviderFactory(providerFactory : ResteasyProviderFactory) : void}
    \ml{+setMediaTypeParamMapping(paramMapping : String) : void}
    \ml{+getResourceFactories() : List<ResourceFactory>}
    \ml{+setResourceFactories(resourceFactories : List<ResourceFactory>) : void}
    \ml{+getUnwrappedExceptions() : List<String>}
    \ml{+setUnwrappedExceptions(unwrappedExceptions : List<String>) : void}
    \ml{+getConstructedDefaultContextObjects() : Map<String, String>}
    \ml{+setConstructedDefaultContextObjects(constructedDefaultContextObjects : Map<String, String>) : void}
    \ml{+getDefaultContextObjects() : Map<Class, Object>}
    \ml{+setDefaultContextObjects(defaultContextObjects : Map<Class, Object>) : void}
    \ml{+getScannedResourceClasses() : List<String>}
    \ml{+setScannedResourceClasses(scannedResourceClasses : List<String>) : void}
    \ml{+getScannedProviderClasses() : List<String>}
    \ml{+setScannedProviderClasses(scannedProviderClasses : List<String>) : void}
    \ml{+getScannedJndiComponentResources() : List<String>}
    \ml{+setScannedJndiComponentResources(scannedJndiComponentResources : List<String>) : void}
    \ml{+getScannedResourceClassesWithBuilder() : Map<String, List<String>>}
    \ml{+setScannedResourceClassesWithBuilder(scannedResourceClassesWithBuilder : Map<String, List<String>>) : void}
    \ml{+isWiderRequestMatching() : boolean}
    \ml{+setWiderRequestMatching(widerRequestMatching : boolean) : void}
    \ml{+isAddCharset() : boolean}
    \ml{+setAddCharset(addCharset : boolean) : void}
    \ml{+getInjectorFactory() : InjectorFactory}
    \ml{+setInjectorFactory(injectorFactory : InjectorFactory) : void}
    \ml{+getProperty(key : String) : Object}
    \ml{+setProperty(key : String, value : Object) : void}
    \ml{+setStatisticsEnabled(statisticsEnabled : boolean) : void}
    \ml{+setRegistry(registry : Registry) : void}}};

  % Corners of the long connectors
  \coordinate (pfloop) at (1707,512);
  \coordinate (pfileft) at (2,485);
  \coordinate (pfiloop) at (4152,13);

  % Generalization and realizations
  \draw[extends] (pfi.west |- 0,1032) -- (pf.east |- 0,1032);
  \draw[realize] (rmr.south) -- (rmr.south |- reg.north);
  \draw[realize] (rdi.south) -- (rdi.south |- rd.north);
  \draw[realize] (sd.south) -- (sd.south |- disp.north);

  % Associations
  \draw[assoc] (rmr.east |- 0,1032) -- (pf.west |- 0,1032)
    node[role, pos=1, anchor=south east, xshift=-14pt] {\#providerFactory}
    node[role, pos=1, anchor=north east, xshift=-3pt] {1};
  \draw[assoc] ([xshift=-222pt]pf.north) |- (pfloop) |- (pf.west |- 0,792)
    node[role, pos=1, anchor=south east, xshift=-14pt] {-instance}
    node[role, pos=1, anchor=north east, xshift=-3pt] {1};
  \draw[assoc] ([xshift=343pt]pfi.north) |- (pfiloop) |- (pfi.east |- 0,541)
    node[role, pos=1, anchor=south west, xshift=14pt] {-parent}
    node[role, pos=1, anchor=north west, xshift=3pt] {1};
  \draw[assoc] (rdi.west |- 0,2432) -| (pfileft) -| (pf.north)
    node[role, pos=1, anchor=south west, xshift=4pt] {-providerFactory}
    node[role, pos=1, anchor=south east, xshift=-4pt] {1};
  \draw[assoc] (sd.east |- 0,1683) -| (pf.south)
    node[role, pos=1, anchor=north east, xshift=-4pt] {\#providerFactory}
    node[role, pos=1, anchor=north west, xshift=4pt] {1};
  \draw[assoc] (sd.west |- 0,1683) -- (reg.east |- 0,1683)
    node[role, pos=1, anchor=north west, xshift=14pt] {\#registry}
    node[role, pos=1, anchor=south west, xshift=3pt] {1};
  \draw[assoc] (sd.north) -- (sd.north |- hrp.south)
    node[role, pos=1, anchor=north east, xshift=-8pt] {\#requestPreprocessors}
    node[role, pos=1, anchor=north west, xshift=6pt] {*};
  \draw[assoc] (rdi.north) -- (rdi.north |- reg.south)
    node[role, pos=1, anchor=north east, xshift=-8pt] {-registry}
    node[role, pos=1, anchor=north west, xshift=6pt] {1};
  \draw[assoc] (rdi.east |- 0,2245) -- (disp.west |- 0,2245)
    node[role, pos=1, anchor=south east, xshift=-14pt] {-dispatcher}
    node[role, pos=1, anchor=south east, xshift=-3pt] {1};
\end{tikzpicture}
\end{document}
